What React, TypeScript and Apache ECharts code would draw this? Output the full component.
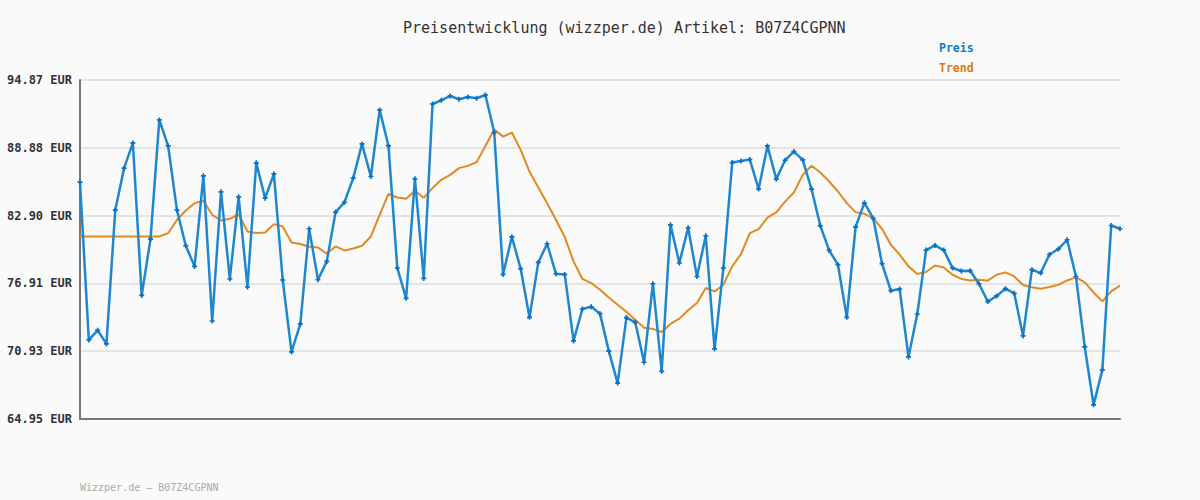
import React, { useEffect, useRef } from "react";
import * as echarts from "echarts";

const priceValues: number[] = [
  85.85, 71.93, 72.78, 71.58, 83.39, 87.09, 89.32, 75.86, 80.83, 91.35,
  89.05, 83.39, 80.24, 78.42, 86.41, 73.6, 85.0, 77.31, 84.56, 76.6,
  87.56, 84.44, 86.59, 77.22, 70.87, 73.34, 81.74, 77.24, 78.86, 83.21,
  84.07, 86.21, 89.23, 86.35, 92.23, 89.05, 78.28, 75.6, 86.15, 77.36,
  92.75, 93.08, 93.46, 93.17, 93.37, 93.26, 93.55, 90.23, 77.71, 81.03,
  78.21, 73.92, 78.77, 80.42, 77.77, 77.71, 71.84, 74.66, 74.86, 74.25,
  70.94, 68.12, 73.9, 73.48, 69.96, 76.89, 69.16, 82.09, 78.72, 81.83,
  77.53, 81.12, 71.14, 78.28, 87.58, 87.73, 87.85, 85.24, 89.05, 86.12,
  87.79, 88.55, 87.82, 85.24, 82.0, 79.83, 78.57, 73.92, 81.91, 84.03,
  82.66, 78.67, 76.27, 76.42, 70.43, 74.22, 79.86, 80.27, 79.86, 78.28,
  78.01, 78.04, 76.89, 75.31, 75.81, 76.45, 76.04, 72.28, 78.13, 77.83,
  79.47, 79.95, 80.77, 77.53, 71.31, 66.2, 69.29, 82.03, 81.74,
];

const trendValues: number[] = [
  81.06, 81.06, 81.06, 81.06, 81.06, 81.06, 81.06, 81.06, 81.05, 81.06,
  81.36, 82.51, 83.35, 84.0, 84.21, 82.97, 82.47, 82.62, 83.0, 81.5,
  81.36, 81.41, 82.15, 81.94, 80.53, 80.39, 80.15, 80.09, 79.55, 80.18,
  79.83, 80.0, 80.24, 81.06, 82.97, 84.82, 84.5, 84.38, 85.09, 84.47,
  85.33, 86.06, 86.5, 87.09, 87.29, 87.62, 89.05, 90.5, 89.87, 90.23,
  88.7, 86.79, 85.38, 84.0, 82.53, 81.01, 78.86, 77.31, 76.95, 76.36,
  75.68, 75.04, 74.42, 73.72, 73.0, 72.9, 72.63, 73.34, 73.81, 74.54,
  75.19, 76.51, 76.21, 76.8, 78.42, 79.51, 81.36, 81.71, 82.73, 83.18,
  84.14, 84.94, 86.5, 87.3, 86.7, 85.91, 85.03, 84.0, 83.21, 83.06,
  82.68, 81.74, 80.33, 79.45, 78.42, 77.75, 77.92, 78.5, 78.33, 77.68,
  77.31, 77.18, 77.24, 77.16, 77.68, 77.89, 77.53, 76.78, 76.57, 76.45,
  76.6, 76.8, 77.18, 77.45, 77.01, 76.12, 75.33, 76.21, 76.72,
];

const categories: string[] = priceValues.map((_, i) => String(i + 1));

const tickLabels: string[] = [
  "64.95 EUR",
  "70.93 EUR",
  "76.91 EUR",
  "82.90 EUR",
  "88.88 EUR",
  "94.87 EUR",
];

const titleText = "Preisentwicklung (wizzper.de) Artikel: B07Z4CGPNN";
const footerText = "Wizzper.de – B07Z4CGPNN";
const seriesNames = ["Preis", "Trend"];

const BLUE = "#1e87d0";
const BLUE_DARK = "#0a70c0";
const ORANGE = "#e3891f";
const MONO = "'DejaVu Sans Mono', 'Liberation Mono', monospace";

export default function App() {
  const ref = useRef<HTMLDivElement>(null);

  useEffect(() => {
    if (!ref.current) return;
    const chart = echarts.init(ref.current, undefined, { renderer: "svg" });
    chart.setOption({
      animation: false,
      backgroundColor: "#fafafa",
      grid: { left: 80, right: 80, top: 80, bottom: 81, containLabel: false },
      graphic: [
        {
          type: "text",
          left: 403,
          top: 20,
          style: { text: titleText, font: `15px ${MONO}`, fill: "#333" },
        },
        {
          type: "text",
          left: 939,
          top: 42,
          style: { text: seriesNames[0], font: `bold 11.5px ${MONO}`, fill: "#0b7dc6" },
        },
        {
          type: "text",
          left: 939,
          top: 62,
          style: { text: seriesNames[1], font: `bold 11.5px ${MONO}`, fill: "#d97a0c" },
        },
        {
          type: "text",
          left: 80,
          top: 482,
          style: { text: footerText, font: `10px ${MONO}`, fill: "#aaa" },
        },
      ],
      xAxis: {
        type: "category",
        data: categories,
        boundaryGap: false,
        axisLine: { show: true, lineStyle: { color: "#777", width: 2 } },
        axisTick: { show: false },
        axisLabel: { show: false },
        splitLine: { show: false },
      },
      yAxis: {
        type: "value",
        min: 64.95,
        max: 94.87,
        interval: 5.984,
        axisLine: { show: true, lineStyle: { color: "#777", width: 2 } },
        axisTick: { show: false },
        axisLabel: {
          formatter: (_v: number, idx: number) => tickLabels[idx] ?? "",
          color: "#333",
          fontFamily: MONO,
          fontWeight: "bold",
          fontSize: 12,
          margin: 8,
        },
        splitLine: { show: true, lineStyle: { color: "#e4e4e4", width: 2 } },
      },
      series: [
        {
          name: seriesNames[1],
          type: "line",
          data: trendValues,
          symbol: "none",
          lineStyle: { color: ORANGE, width: 2 },
          itemStyle: { color: ORANGE },
          z: 2,
        },
        {
          name: seriesNames[0],
          type: "line",
          data: priceValues,
          symbol: "path://M2,0H4V2H6V4H4V6H2V4H0V2H2Z",
          symbolSize: 5,
          showSymbol: true,
          showAllSymbol: true,
          lineStyle: { color: BLUE, width: 2.5 },
          itemStyle: { color: BLUE_DARK },
          z: 3,
        },
      ],
    });
    return () => chart.dispose();
  }, []);

  return (
    <div
      ref={ref}
      style={{ position: "fixed", left: 0, top: 0, width: 1200, height: 500 }}
    />
  );
}
